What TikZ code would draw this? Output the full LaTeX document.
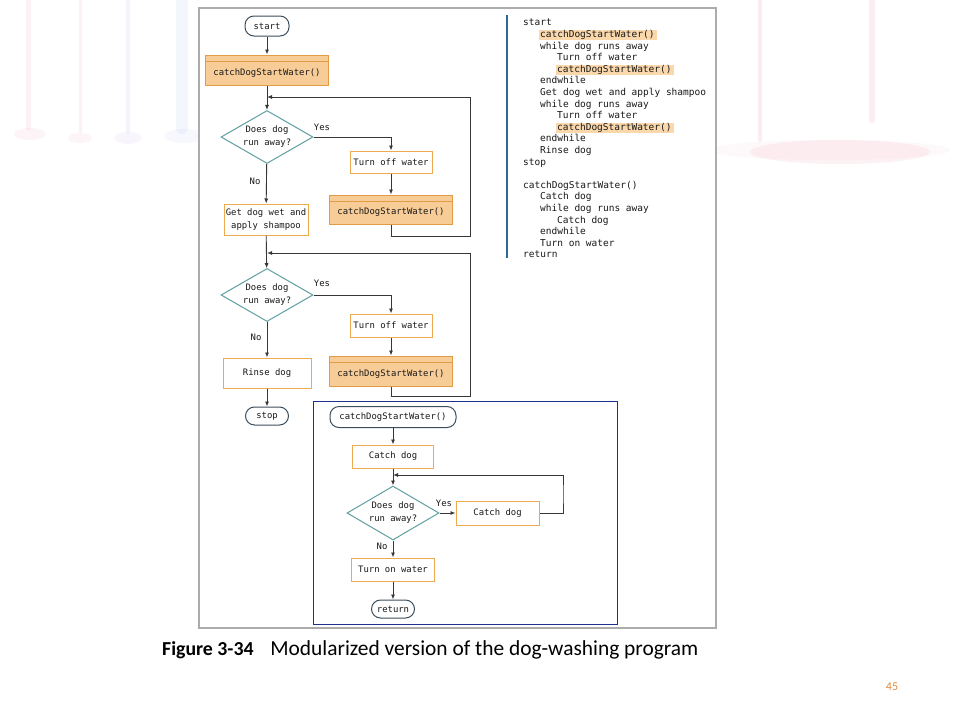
\documentclass[tikz,border=0pt]{standalone}
\usepackage{fontspec}
\setmainfont{Carlito}
\newfontfamily\codefont{DejaVu Sans Mono}
\usetikzlibrary{shapes.geometric,arrows.meta}
\definecolor{arrowc}{RGB}{55,55,55}
\definecolor{termc}{RGB}{60,78,92}
\definecolor{procc}{RGB}{238,170,80}
\definecolor{modc}{RGB}{226,156,70}
\definecolor{modfill}{RGB}{248,204,150}
\definecolor{decc}{RGB}{95,160,160}
\definecolor{hlc}{RGB}{250,216,172}
\definecolor{barc}{RGB}{40,108,150}
\definecolor{insetc}{RGB}{30,50,140}
\definecolor{figc}{RGB}{172,172,172}
\definecolor{textc}{RGB}{25,25,25}
\definecolor{pagec}{RGB}{228,140,60}
\definecolor{drippink}{RGB}{235,120,170}
\definecolor{driplav}{RGB}{170,140,230}
\definecolor{dripblue}{RGB}{150,170,240}
\definecolor{dripred}{RGB}{230,90,110}
\begin{document}
\begin{tikzpicture}[x=1pt,y=-1pt,
  flowfont/.style={font=\codefont\fontsize{8.9}{13}\selectfont, text=textc},
  flow/.style={draw=arrowc, line width=0.9pt, -{Latex[length=5pt,width=4pt]}},
  term/.style={flowfont, draw=termc, line width=1pt, rounded corners=9pt, fill=white, inner sep=0pt},
  proc/.style={flowfont, draw=procc, line width=1pt, fill=white, inner sep=0pt, align=center},
  modbox/.style={flowfont, draw=modc, line width=1pt, fill=modfill, inner sep=0pt,
     text height=12pt, text depth=2pt,
     path picture={\draw[modc, line width=0.8pt] ([yshift=-6pt]path picture bounding box.north west) -- ([yshift=-6pt]path picture bounding box.north east);}},
  dec/.style={flowfont, diamond, aspect=1.7, draw=decc, line width=1pt, fill=white, inner sep=0pt, align=center},
  lbl/.style={flowfont, inner sep=0pt},
  code/.style={font=\codefont\fontsize{9.5}{11}\selectfont, text=textc, anchor=west, inner sep=0pt, text height=7pt, text depth=2pt},
  hl/.style={fill=hlc, draw=none},
  drip/.style={line width=5pt, line cap=round, opacity=0.10}
]
\useasboundingbox (0,0) rectangle (960,720);
\fill[white] (0,0) rectangle (960,720);

% faint background decoration
\draw[drip, drippink] (28,0) -- (28,128);
\fill[drippink, opacity=0.08] (30,134) ellipse [x radius=16pt, y radius=6pt];
\draw[drip, drippink, line width=3pt] (80,0) -- (80,132);
\fill[drippink, opacity=0.08] (80,138) ellipse [x radius=12pt, y radius=5pt];
\draw[drip, driplav, line width=4pt] (128,0) -- (128,132);
\fill[driplav, opacity=0.08] (128,138) ellipse [x radius=14pt, y radius=6pt];
\draw[drip, dripblue, line width=12pt] (182,0) -- (182,128);
\fill[dripblue, opacity=0.08] (184,136) ellipse [x radius=20pt, y radius=7pt];
\draw[drip, dripred, line width=4pt] (760,0) -- (760,140);
\draw[drip, dripred, line width=6pt] (872,0) -- (872,120);
\fill[dripred, opacity=0.08] (840,152) ellipse [x radius=90pt, y radius=12pt];
\fill[drippink, opacity=0.05] (830,150) ellipse [x radius=120pt, y radius=10pt];

% figure frame
\fill[white] (199,8) rectangle (716,628);
\draw[figc, line width=1.2pt] (199,8) rectangle (716,628);

% ---------- main flowchart ----------
\node[term, minimum width=44pt, minimum height=20pt] (start) at (267,26) {start};
\node[modbox, minimum width=123pt, minimum height=30pt] (m1) at (267,70) {catchDogStartWater()};
\node[dec, minimum width=92pt, minimum height=53pt] (d1) at (267,137) {Does dog\\run away?};
\node[proc, minimum width=82pt, minimum height=22pt] (t1) at (391,162) {Turn off water};
\node[modbox, minimum width=123pt, minimum height=29pt] (m2) at (391,209.5) {catchDogStartWater()};
\node[proc, minimum width=84pt, minimum height=31pt] (g) at (266,219.5) {Get dog wet and\\apply shampoo};
\node[dec, minimum width=92pt, minimum height=53pt] (d2) at (267,295) {Does dog\\run away?};
\node[proc, minimum width=82pt, minimum height=23pt] (t2) at (391,325.5) {Turn off water};
\node[modbox, minimum width=123pt, minimum height=30pt] (m3) at (391,371) {catchDogStartWater()};
\node[proc, minimum width=88pt, minimum height=30pt] (r) at (267,373) {Rinse dog};
\node[term, minimum width=43pt, minimum height=18pt] (stop) at (267,416) {stop};

\coordinate (j1) at (267,97);
\coordinate (j2) at (267,253);

\draw[flow] (start) -- (m1);
\draw[flow] (m1) -- (d1);
\draw[flow] (d1.east) -| (t1.north);
\draw[flow] (t1) -- (m2);
\draw[flow] (m2.south) |- (470,236) |- (j1);
\draw[flow] (d1) -- (g);
\draw[flow] (g) -- (d2);
\draw[flow] (d2.east) -| (t2.north);
\draw[flow] (t2) -- (m3);
\draw[flow] (m3.south) |- (470,396) |- (j2);
\draw[flow] (d2) -- (r);
\draw[flow] (r) -- (stop);

\node[lbl] (y1) at (322,127) {Yes};
\node[lbl] (n1) at (255,181) {No};
\node[lbl] (y2) at (322,283) {Yes};
\node[lbl] (n2) at (256,337) {No};

% ---------- inset: module flowchart ----------
\draw[insetc, line width=1pt] (313,401) rectangle (617,624);
\node[term, minimum width=126pt, minimum height=21pt] (s2) at (393,417) {catchDogStartWater()};
\node[proc, minimum width=81pt, minimum height=23pt] (c1) at (393,456.5) {Catch dog};
\node[dec, minimum width=92pt, minimum height=54pt] (d3) at (393,513) {Does dog\\run away?};
\node[proc, minimum width=83pt, minimum height=24pt] (c2) at (497.5,513) {Catch dog};
\node[proc, minimum width=83pt, minimum height=23pt] (tw) at (393,569.5) {Turn on water};
\node[term, minimum width=43pt, minimum height=18pt] (ret) at (393,609) {return};
\coordinate (j3) at (393,475);

\draw[flow] (s2) -- (c1);
\draw[flow] (c1) -- (d3);
\draw[flow] (d3) -- (c2);
\draw[flow] (c2.east) -| (563,494) |- (j3);
\draw[flow] (d3) -- (tw);
\draw[flow] (tw) -- (ret);
\node[lbl] (y3) at (444,503) {Yes};
\node[lbl] (n3) at (382,546) {No};

% ---------- pseudocode ----------
\fill[barc] (506.2,15) rectangle (508.2,258);
\fill[hl] (539,30) rectangle (657,40);
\fill[hl] (556,64.8) rectangle (674,74.8);
\fill[hl] (556,122.8) rectangle (674,132.8);

\node[code] (c00) at (523,23.3) {start};
\node[code] (c01) at (540,34.9) {catchDogStartWater()};
\node[code] (c02) at (540,46.5) {while dog runs away};
\node[code] (c03) at (557,58.1) {Turn off water};
\node[code] (c04) at (557,69.7) {catchDogStartWater()};
\node[code] (c05) at (540,81.3) {endwhile};
\node[code] (c06) at (540,92.9) {Get dog wet and apply shampoo};
\node[code] (c07) at (540,104.5) {while dog runs away};
\node[code] (c08) at (557,116.1) {Turn off water};
\node[code] (c09) at (557,127.7) {catchDogStartWater()};
\node[code] (c10) at (540,139.3) {endwhile};
\node[code] (c11) at (540,150.9) {Rinse dog};
\node[code] (c12) at (523,162.5) {stop};
\node[code] (c14) at (523,185.7) {catchDogStartWater()};
\node[code] (c15) at (540,197.3) {Catch dog};
\node[code] (c16) at (540,208.9) {while dog runs away};
\node[code] (c17) at (557,220.5) {Catch dog};
\node[code] (c18) at (540,232.1) {endwhile};
\node[code] (c19) at (540,243.7) {Turn on water};
\node[code] (c20) at (523,255.3) {return};

% ---------- caption and page number ----------
\node[anchor=base west, inner sep=0pt, text=black] (cap) at (162,655)
  {\fontsize{19.8}{22}\selectfont\textbf{Figure 3-34}\hspace{0.85em}\fontsize{21.4}{24}\selectfont Modularized version of the dog-washing program};
\node[inner sep=0pt, font=\fontsize{12}{14}\selectfont, text=pagec] (pg) at (892,687) {45};
\end{tikzpicture}
\end{document}
